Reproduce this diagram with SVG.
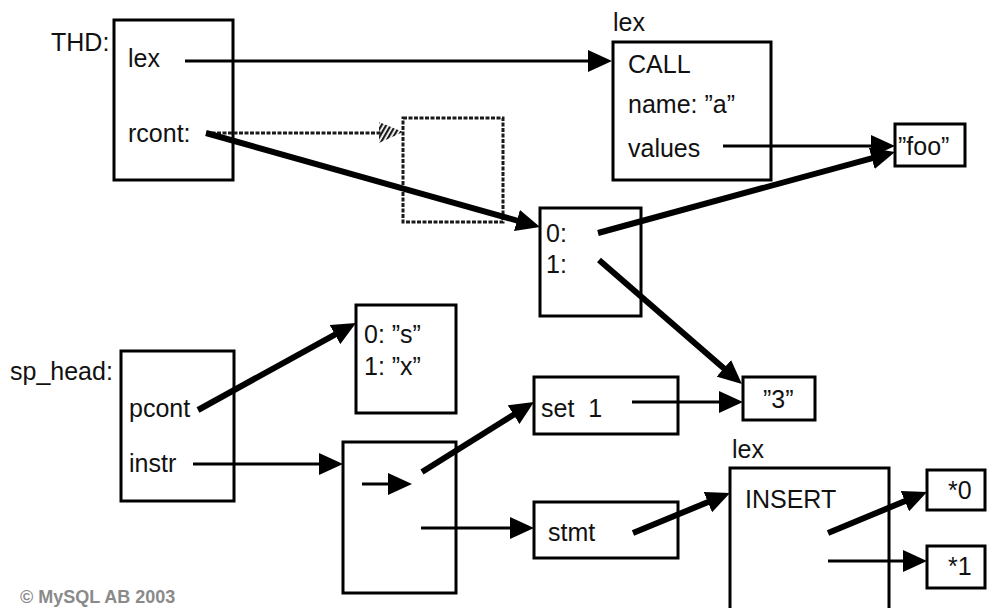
<svg xmlns="http://www.w3.org/2000/svg" width="989" height="608" viewBox="0 0 989 608">
<defs>
<style>
text{font-family:"Liberation Sans",Arial,sans-serif;font-size:25px;fill:#111}
.box{fill:#fff;stroke:#000;stroke-width:3}
.dbox{fill:none;stroke:#1a1a1a;stroke-width:3;stroke-dasharray:4 1.5}
.thin{fill:none;stroke:#000;stroke-width:3;marker-end:url(#ah)}
.thick{fill:none;stroke:#000;stroke-width:6;marker-end:url(#ah)}
.dash{fill:none;stroke:#1a1a1a;stroke-width:3;stroke-dasharray:4 1.5}
.copy{font-size:18px;font-weight:bold;fill:#8a8a8a}
</style>
<marker id="ah" markerUnits="userSpaceOnUse" viewBox="0 0 24 22" markerWidth="24" markerHeight="22" refX="14" refY="11" orient="auto">
<path d="M0,0 L24,11 L0,22 z" fill="#000"/>
</marker>
<pattern id="hatch" patternUnits="userSpaceOnUse" width="4" height="4" patternTransform="rotate(30)">
<rect width="2.2" height="4" fill="#1a1a1a"/>
</pattern>
</defs>

<g id="thd">
<text x="51" y="51">THD:</text>
<rect class="box" x="114" y="20" width="119" height="160"/>
<text x="128" y="67">lex</text>
<text x="128" y="142">rcont:</text>
</g>

<g id="call">
<text x="613" y="31">lex</text>
<rect class="box" x="613" y="42" width="158" height="138"/>
<text x="628" y="73">CALL</text>
<text x="628" y="113">name: ”a”</text>
<text x="628" y="157">values</text>
</g>

<g id="foo">
<rect class="box" x="895" y="124" width="70" height="42"/>
<text x="898" y="155">”foo”</text>
</g>

<g id="dashed">
<rect class="dbox" x="403" y="118" width="100" height="104"/>
</g>

<g id="list01">
<rect class="box" x="540" y="208" width="101" height="108"/>
<text x="546" y="242">0:</text>
<text x="546" y="273">1:</text>
</g>

<g id="three">
<rect class="box" x="743" y="377" width="72" height="43"/>
<text x="763" y="408">”3”</text>
</g>

<g id="sp_head">
<text x="10" y="380">sp_head:</text>
<rect class="box" x="121" y="351" width="113" height="150"/>
<text x="129" y="417">pcont</text>
<text x="129" y="472">instr</text>
</g>

<g id="pcont">
<rect class="box" x="356" y="305" width="100" height="108"/>
<text x="364" y="343">0: ”s”</text>
<text x="364" y="375">1: ”x”</text>
</g>

<g id="instr">
<rect class="box" x="343" y="442" width="113" height="151"/>
</g>

<g id="set1">
<rect class="box" x="534" y="377" width="144" height="57"/>
<text x="541" y="417" xml:space="preserve">set  1</text>
</g>

<g id="stmt">
<rect class="box" x="534" y="502" width="144" height="56"/>
<text x="548" y="541">stmt</text>
</g>

<g id="insert">
<text x="732" y="458">lex</text>
<rect class="box" x="730" y="468" width="159" height="160"/>
<text x="745" y="508">INSERT</text>
</g>

<g id="star0">
<rect class="box" x="927" y="470" width="58" height="40"/>
<text x="948" y="499">*0</text>
</g>

<g id="star1">
<rect class="box" x="927" y="546" width="58" height="42"/>
<text x="948" y="575">*1</text>
</g>

<g id="connectors">
<path class="thin" d="M185,61 L602,61"/>
<path class="thin" d="M723,146 L885,146"/>
<path class="dash" d="M206,133 L382,133"/>
<path d="M379,122 L403,132 L379,143 z" fill="url(#hatch)"/>
<path class="thick" d="M206,133 L530.4,224.3"/>
<path class="thick" d="M598,233 L885.3,154.6"/>
<path class="thick" d="M599,260 L734.4,377.5"/>
<path class="thick" d="M198,410 L347.2,327.8"/>
<path class="thin" d="M193,464 L333,464"/>
<path class="thin" d="M362,484 L402,484"/>
<path class="thick" d="M422,472 L525.5,407.3"/>
<path class="thin" d="M421,528 L524,528"/>
<path class="thin" d="M632,402 L733,402"/>
<path class="thick" d="M633,533 L720.8,496.8"/>
<path class="thick" d="M828,533 L917.8,495.8"/>
<path class="thin" d="M828,561 L917,561"/>
</g>

<text class="copy" x="20" y="603">© MySQL AB 2003</text>
</svg>
